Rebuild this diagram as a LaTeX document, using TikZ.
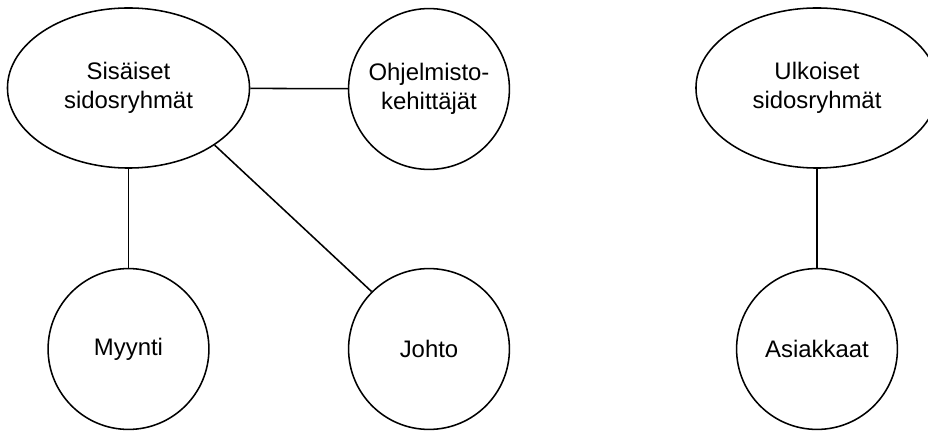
\documentclass[tikz,border=0pt]{standalone}
\usepackage{fontspec}
\setmainfont{Liberation Sans}
\usetikzlibrary{shapes.geometric}
\begin{document}
\begin{tikzpicture}[x=0.025cm,y=-0.025cm,
  ryhma/.style={draw, ellipse, line width=1.1pt, minimum width=6.05cm, minimum height=4cm, inner sep=0pt, align=center, font=\fontsize{17}{20.6}\selectfont},
  jasen/.style={draw, circle, line width=1.1pt, minimum size=4.02cm, inner sep=0pt, align=center, font=\fontsize{17}{20.6}\selectfont}]
\useasboundingbox (0,0) rectangle (928,432);
\node[ryhma] (sis) at (128.5,88) {Sisäiset\\sidosryhmät};
\node[jasen] (ohj) at (429,89) {Ohjelmisto-\\kehittäjät};
\node[jasen] (myy) at (128.5,349) {Myynti};
\node[jasen] (joh) at (429,349) {Johto};
\node[ryhma] (ulk) at (817,88) {Ulkoiset\\sidosryhmät};
\node[jasen] (asi) at (817,349) {Asiakkaat};
\path[draw,line width=1.1pt,-] (sis) -- (ohj);
\path[draw,line width=1.1pt,-] (sis) -- (myy);
\path[draw,line width=1.1pt,-] (sis.south east) -- (joh.north west);
\path[draw,line width=1.1pt,-] (ulk) -- (asi);
\end{tikzpicture}
\end{document}
